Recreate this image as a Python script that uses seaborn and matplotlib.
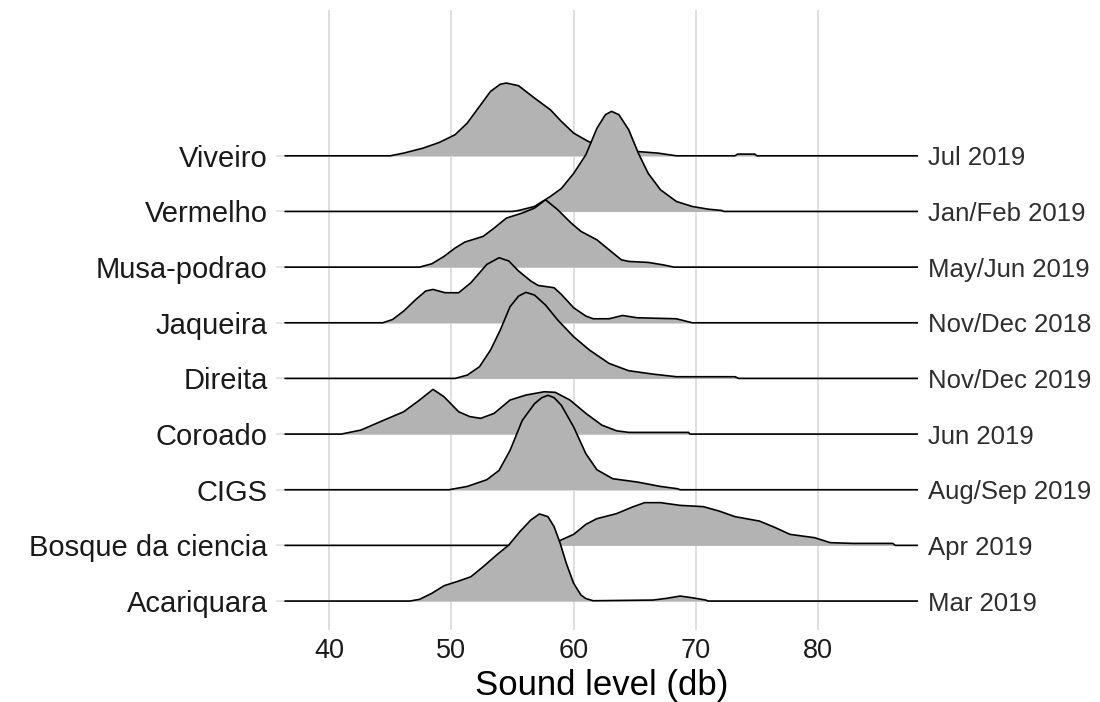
import numpy as np
import pandas as pd
import matplotlib
matplotlib.use("Agg")
import matplotlib.pyplot as plt
import seaborn as sns

# ---------------- data ----------------
sites = ["Acariquara", "Bosque da ciencia", "CIGS", "Coroado", "Direita",
         "Jaqueira", "Musa-podrao", "Vermelho", "Viveiro"]
periods = ["Mar 2019", "Apr 2019", "Aug/Sep 2019", "Jun 2019", "Nov/Dec 2019",
           "Nov/Dec 2018", "May/Jun 2019", "Jan/Feb 2019", "Jul 2019"]
x_ticks = [40, 50, 60, 70, 80]

# density outlines: sound level (dB) and relative density height
acariquara_x = [46.6, 47.4, 48.4, 49.4, 50.6, 51.6, 52.6, 53.7, 54.7, 55.6, 56.5, 57.2,
                57.9, 58.4, 58.9, 59.4, 60.0, 60.6, 61.0, 61.6, 66.5, 67.6, 68.7, 69.7,
                70.8, 71.0]
acariquara_d = [0, 1.7, 7.7, 15.3, 20, 24.3, 34.3, 46, 56, 69.3, 81, 87,
                84.3, 74.3, 57.7, 37.7, 17.7, 6, 2.5, 0.3, 1, 2.7, 5, 3.3,
                1, 0]

bosque_x = [57.0, 58.0, 58.9, 60.0, 61.0, 61.9, 63.5, 64.8, 65.8, 67.1, 68.7, 70.6,
            71.9, 73.2, 75.2, 76.5, 77.7, 79.7, 81.0, 82.9, 86.1, 86.3]
bosque_d = [0, 2, 5, 11, 21, 26.7, 31.7, 38.3, 42.7, 42.7, 40, 38.7,
            34.3, 28.7, 24.3, 17.7, 11, 7.7, 2.7, 2, 2, 0]

cigs_x = [49.8, 51.3, 52.9, 53.9, 54.8, 55.8, 56.8, 57.4, 57.9, 58.4, 59.0, 60.0,
          61.0, 61.9, 63.2, 65.2, 67.1, 68.5, 68.7]
cigs_d = [0, 3.3, 10, 19.3, 39.3, 69.3, 86, 92, 94.3, 92, 84.3, 62.7,
          36, 20, 11, 7.7, 3.3, 1, 0]

coroado_x = [41.0, 42.6, 44.5, 46.1, 47.4, 48.5, 49.4, 50.6, 51.5, 52.4, 53.5, 54.8,
             56.1, 57.6, 58.5, 59.7, 61.0, 62.3, 63.5, 64.5, 69.4, 69.5]
coroado_d = [0, 4, 14, 22.3, 34, 44.7, 37.3, 22.3, 17.5, 15.7, 20.7, 34,
             39, 42.3, 41.7, 34, 20.7, 9, 3.3, 1.7, 1.7, 0]

direita_x = [50.3, 51.3, 52.3, 53.2, 54.0, 54.8, 55.5, 56.1, 56.8, 57.7, 58.7, 60.0,
             61.3, 62.9, 64.5, 66.5, 68.4, 73.2, 73.5]
direita_d = [0, 3.3, 11.7, 28.3, 48.3, 71.7, 82.3, 86, 83.3, 73.3, 58.3, 41.7,
             28.3, 15, 7.7, 4.3, 1.7, 1.7, 0]

jaqueira_x = [44.4, 45.2, 46.1, 47.1, 47.9, 48.5, 49.5, 50.6, 51.6, 52.9, 53.9, 54.7,
              55.5, 56.5, 57.1, 58.4, 59.0, 60.0, 61.0, 61.6, 62.9, 64.0, 65.2, 68.4, 69.7]
jaqueira_d = [0, 3.3, 11.7, 23.3, 31.7, 33.3, 30, 30, 40, 58.3, 65, 61.7,
              51.7, 41.7, 37.3, 35, 28.3, 15, 6.7, 4, 4, 7.3, 5, 4, 0]

musa_x = [47.4, 48.4, 49.4, 50.3, 51.1, 52.6, 53.5, 54.5, 55.8, 56.8, 57.7, 58.7,
          59.8, 60.6, 61.9, 62.9, 63.9, 64.5, 66.1, 67.3, 68.2]
musa_d = [0, 3.3, 10.7, 19, 25, 30.7, 39, 49, 54, 59, 67.3, 57.3,
          44, 35.7, 27.3, 17.3, 7.3, 5.7, 4.7, 2.3, 0]

vermelho_x = [55.0, 55.5, 56.8, 58.1, 59.0, 60.0, 61.0, 61.9, 62.6, 63.1, 63.7, 64.5,
              65.3, 66.1, 67.1, 68.4, 69.7, 71.0, 72.1, 72.3]
vermelho_d = [0, 1, 5, 15, 23, 38, 56.7, 83, 96.7, 100, 96.7, 81.7,
              58, 38, 21.7, 10, 5, 2.3, 1, 0]

viveiro_x = [45.0, 46.1, 47.7, 49.0, 50.3, 51.3, 52.3, 53.2, 54.0, 54.5, 55.5, 56.8,
             58.1, 59.0, 60.0, 61.1, 62.0, 63.0, 64.0, 65.2, 66.9, 68.4, 73.2, 73.4,
             74.8, 75.0]
viveiro_d = [0, 2.7, 7.7, 13.3, 21, 32.7, 49.3, 64.3, 71.5, 72.7, 70, 57.7,
             46, 34.3, 22.7, 15, 10, 7, 5.5, 4.3, 2.7, 0, 0, 1.7,
             1.7, 0]

curves_x = [acariquara_x, bosque_x, cigs_x, coroado_x, direita_x,
            jaqueira_x, musa_x, vermelho_x, viveiro_x]
curves_d = [acariquara_d, bosque_d, cigs_d, coroado_d, direita_d,
            jaqueira_d, musa_d, vermelho_d, viveiro_d]

# ---------------- styling ----------------
sns.set_theme(style="white")
plt.rcParams["font.family"] = ["Liberation Sans", "DejaVu Sans"]

X_MIN, X_MAX = 35.66, 88.16
LINE_MIN, LINE_MAX = 36.4, 88.16
ROW = 55.6  # density units per row spacing
FILL = "#b3b3b3"

fig = plt.figure(figsize=(11.0, 7.02), dpi=100)
ax = fig.add_axes([276 / 1100, 1 - 630 / 702, (918 - 276) / 1100, (630 - 10) / 702])

ax.set_xlim(X_MIN, X_MAX)
ax.set_ylim(-0.52, 10.62)

for xv in x_ticks:
    ax.axvline(xv, color="#dcdcdc", lw=1.3, zorder=0)
for i in range(len(sites)):
    ax.axhline(i, color="#e3e3e3", lw=1.3, zorder=0)

# draw from top row to bottom row so lower ridges overlap upper ones
for i in reversed(range(len(sites))):
    xs = [LINE_MIN] + list(curves_x[i]) + [LINE_MAX]
    ds = [0] + list(curves_d[i]) + [0]
    df = pd.DataFrame({"x": xs, "y": [i + d / ROW for d in ds]})
    z = 10 + (len(sites) - i) * 2
    ax.fill_between(df["x"], i, df["y"], color=FILL, lw=0, zorder=z)
    sns.lineplot(data=df, x="x", y="y", ax=ax, color="black", lw=1.2,
                 sort=False, estimator=None, zorder=z + 1)

for s in ax.spines.values():
    s.set_visible(False)

ax.set_xticks(x_ticks)
ax.set_xticklabels([str(v) for v in x_ticks], fontsize=19.5, color="#1a1a1a")
ax.set_yticks(range(len(sites)))
ax.set_yticklabels(sites, fontsize=21, color="#1a1a1a")
ax.tick_params(axis="x", length=0, pad=6)
ax.tick_params(axis="y", length=0, pad=6)
ax.set_xlabel("Sound level (db)", fontsize=25, color="black")
ax.xaxis.set_label_coords(0.508, -(685 - 630) / 620)
ax.xaxis.label.set_verticalalignment("center")
ax.set_ylabel("")

ax2 = ax.twinx()
ax2.set_ylim(ax.get_ylim())
ax2.set_yticks(range(len(periods)))
ax2.set_yticklabels(periods, fontsize=18.5, color="#2e2e2e")
ax2.tick_params(axis="y", length=0, pad=7)
for s in ax2.spines.values():
    s.set_visible(False)
ax2.grid(False)

fig.savefig("out.png", dpi=100)
